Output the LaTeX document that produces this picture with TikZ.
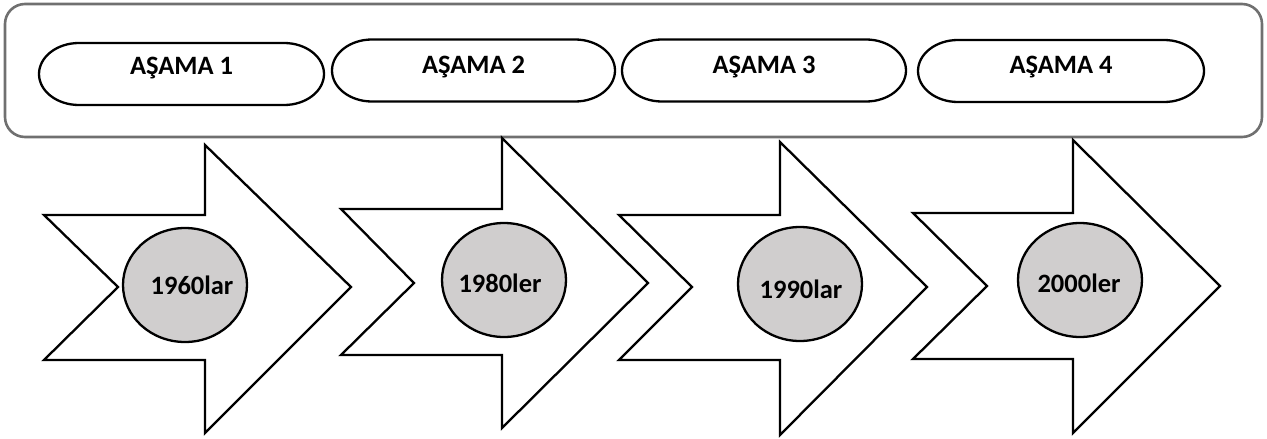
\documentclass[tikz,border=0pt]{standalone}
\usepackage{fontspec}
\setmainfont{Carlito}
\usetikzlibrary{shapes.geometric}
\definecolor{framegray}{RGB}{112,112,112}
\definecolor{discgray}{RGB}{208,206,206}
\tikzset{
  frame/.style={draw=framegray, line width=2.6pt, rounded corners=20pt},
  pillline/.style={draw=black, line width=2.3pt, fill=white},
  stagetext/.style={font=\fontsize{26.5}{30}\selectfont\bfseries, inner sep=0pt},
  chevron/.style={draw=black, line width=2.3pt, fill=white, line join=miter},
  disc/.style={ellipse, draw=black, line width=2.3pt, fill=discgray,
    minimum width=124pt, minimum height=114pt, inner sep=0pt},
  yeartext/.style={font=\fontsize{26.5}{30}\selectfont\bfseries, inner sep=0pt}
}
% pill with elliptical ends: centre x, centre y, width
\newcommand{\stagepill}[3]{%
  \path[pillline] ({#1-#3/2+40},{-#2+31}) -- ({#1+#3/2-40},{-#2+31})
    arc[start angle=90, end angle=-90, x radius=40, y radius=31]
    -- ({#1-#3/2+40},{-#2-31})
    arc[start angle=270, end angle=90, x radius=40, y radius=31] -- cycle;}
% notched arrow: left, notch, head x, tip, centre y, shaft top, shaft bottom, head top, head bottom
\newcommand{\notcharrow}[9]{%
  \path[chevron] (#1,-#6) -- (#3,-#6) -- (#3,-#8) -- (#4,-#5) -- (#3,-#9)
    -- (#3,-#7) -- (#1,-#7) -- (#2,-#5) -- cycle;}
\begin{document}
\begin{tikzpicture}[x=1pt,y=1pt]
\useasboundingbox (0,0) rectangle (1267,-439);

% frame holding the four stages
\path[frame] (5,-4) rectangle (1262,-137);

\stagepill{181.5}{74}{285}
\stagepill{473.5}{70.5}{283}
\stagepill{764}{70.5}{284}
\stagepill{1061}{71}{286}
\node[stagetext] (s1) at (181.5,-68) {AŞAMA 1};
\node[stagetext] (s2) at (473.5,-67) {AŞAMA 2};
\node[stagetext] (s3) at (764,-67) {AŞAMA 3};
\node[stagetext] (s4) at (1061,-67) {AŞAMA 4};

% notched arrows of the time line
\notcharrow{44}{118}{205}{351}{287}{215}{360}{145}{433}
\notcharrow{341}{414}{502}{648}{283}{209}{355}{138}{428}
\notcharrow{619}{692}{780}{927}{287}{215}{360}{142}{435}
\notcharrow{913}{987}{1073}{1220}{286}{213}{359}{140}{433}

% decade discs
\node[disc] (e1) at (185,-285) {};
\node[disc] (e2) at (504,-280) {};
\node[disc] (e3) at (800,-284) {};
\node[disc] (e4) at (1080,-280) {};
\node[yeartext] (y1) at (192,-285) {1960lar};
\node[yeartext] (y2) at (500,-283) {1980ler};
\node[yeartext] (y3) at (801,-289) {1990lar};
\node[yeartext] (y4) at (1079,-283) {2000ler};
\end{tikzpicture}
\end{document}
